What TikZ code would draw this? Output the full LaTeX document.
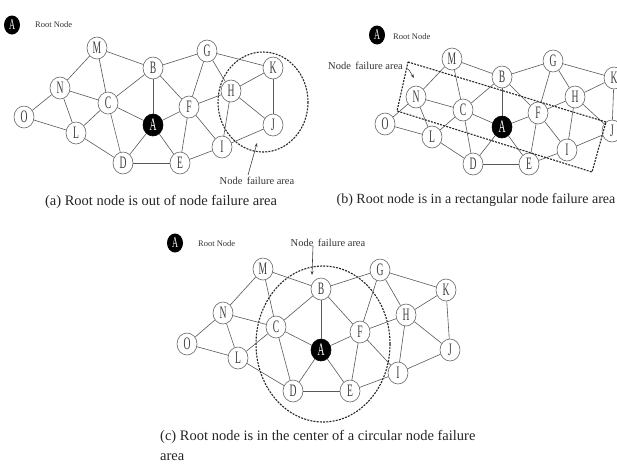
\documentclass[tikz,border=0pt]{standalone}
\usepackage{fontspec}
\setmainfont{Liberation Serif}
\newfontfamily\nodefont[FakeStretch=0.55]{Liberation Serif}
\usetikzlibrary{shapes.geometric,arrows.meta}
\tikzset{
  vn/.style={ellipse,draw=black!60,fill=white,line width=0.6pt,minimum width=20pt,minimum height=22pt,inner sep=0pt,font=\nodefont\fontsize{17.5}{17.5}\selectfont,text=black!75},
  rootn/.style={vn,fill=black,draw=black,text=white},
  legendn/.style={ellipse,fill=black,minimum width=16pt,minimum height=19pt,inner sep=0pt,text=white,font=\nodefont\fontsize{15}{15}\selectfont},
  edge/.style={draw=black!65,line width=0.6pt},
  area/.style={draw=black!85,line width=1.1pt,dash pattern=on 2pt off 1.2pt},
  lbl/.style={font=\fontsize{10.5}{12}\selectfont,text=black!80,inner sep=0pt},
  small/.style={font=\fontsize{8.5}{10}\selectfont,text=black!80,inner sep=0pt},
  captxt/.style={font=\fontsize{14.5}{17}\selectfont,text=black!85,inner sep=0pt},
  pointer/.style={draw=black!75,line width=0.6pt,-{Stealth[length=4pt,width=3pt]}}
}
\begin{document}
\begin{tikzpicture}[x=1pt,y=-1pt]
\useasboundingbox[fill=white] (0,0) rectangle (617,463);
% ---------- panel (a)
\draw[area] (263,102) ellipse [x radius=45,y radius=50];
\foreach \n/\x/\y in {M/97/48,B/153/68,G/207/51,K/273/68,N/60/88,H/231/91,C/108/103,F/189/107,O/24/117,J/273/125,L/76/133,I/222/147,D/123/163,E/180/163}
  \node[vn] (a\n) at (\x,\y) {\n};
\node[rootn] (aA) at (153,125) {A};
\foreach \u/\v in {M/N,M/B,M/C,B/G,B/C,B/A,B/F,G/F,G/H,G/K,K/H,K/J,H/F,H/J,H/I,N/O,N/C,N/L,C/A,C/L,C/D,O/L,L/D,A/F,A/D,A/E,F/E,F/I,D/E,E/I,I/J}
  \draw[edge] (a\u) -- (a\v);
\node[legendn] (aleg) at (12,25) {A};
\node[small,anchor=west] (alegt) at (35,25) {Root Node};
\node[lbl] (alab) at (257,181) {Node\, failure area};
\coordinate (aarr) at (257,143);
\draw[pointer] (alab.north) ++(-9,-2) coordinate (aarrs) -- (aarr);
\node[captxt] (acap) at (161,202) {(a) Root node is out of node failure area};
% ---------- panel (b)
\foreach \n/\x/\y in {M/452/59,B/502/77,G/553/61,K/614/78,N/416/97,H/575/97,C/463/110,F/538/113,O/385/124,J/612/131,L/432/137,I/567/150,D/473/164,E/529/164}
  \node[vn] (b\n) at (\x,\y) {\n};
\node[rootn] (bA) at (502,127) {A};
\foreach \u/\v in {M/N,M/B,M/C,B/G,B/C,B/A,B/F,G/F,G/H,G/K,K/H,K/J,H/F,H/J,H/I,N/O,N/C,N/L,C/A,C/L,C/D,O/L,L/D,A/F,A/D,A/E,F/E,F/I,D/E,E/I,I/J}
  \draw[edge] (b\u) -- (b\v);
\draw[area] (408,62) -- (606,122) -- (592,172) -- (397,111) -- cycle;
\node[legendn] (bleg) at (377,35) {A};
\node[small,anchor=west] (blegt) at (393,37) {Root Node};
\node[lbl,anchor=west] (blab) at (328,66) {Node\, failure area};
\coordinate (barr) at (414,78);
\draw[pointer] (blab.east) ++(3,2) -- ++(3,2) -- (barr);
\node[captxt,font=\fontsize{14}{17}\selectfont,anchor=east] (bcap) at (615.5,200) {(b) Root node is in a rectangular node failure area};
% ---------- panel (c)
\draw[area] (323,344) ellipse [x radius=67,y radius=78];
\foreach \n/\x/\y in {M/263/269,B/321/289,G/380/270,K/446/290,N/223/313,H/406/315,C/276/327,F/360/332,O/187/344,J/450/350,L/238/358,I/398/373,D/293/391,E/350/391}
  \node[vn] (c\n) at (\x,\y) {\n};
\node[rootn] (cA) at (321,350) {A};
\foreach \u/\v in {M/N,M/B,M/C,B/G,B/C,B/A,B/F,G/F,G/H,G/K,K/H,K/J,H/F,H/J,H/I,N/O,N/C,N/L,C/A,C/L,C/D,O/L,L/D,A/F,A/D,A/E,F/E,F/I,D/E,E/I,I/J}
  \draw[edge] (c\u) -- (c\v);
\node[legendn] (cleg) at (175,243) {A};
\node[small,anchor=west] (clegt) at (198,244) {Root Node};
\node[lbl] (clab) at (328,243) {Node\, failure area};
\coordinate (carr) at (312,275);
\draw[pointer] (clab.south) ++(-15,-1) -- (carr);
\node[captxt,anchor=west] (ccap) at (160,437) {(c) Root node is in the center of a circular node failure};
\node[captxt,anchor=west] (ccap2) at (160,457) {area};
\end{tikzpicture}
\end{document}
